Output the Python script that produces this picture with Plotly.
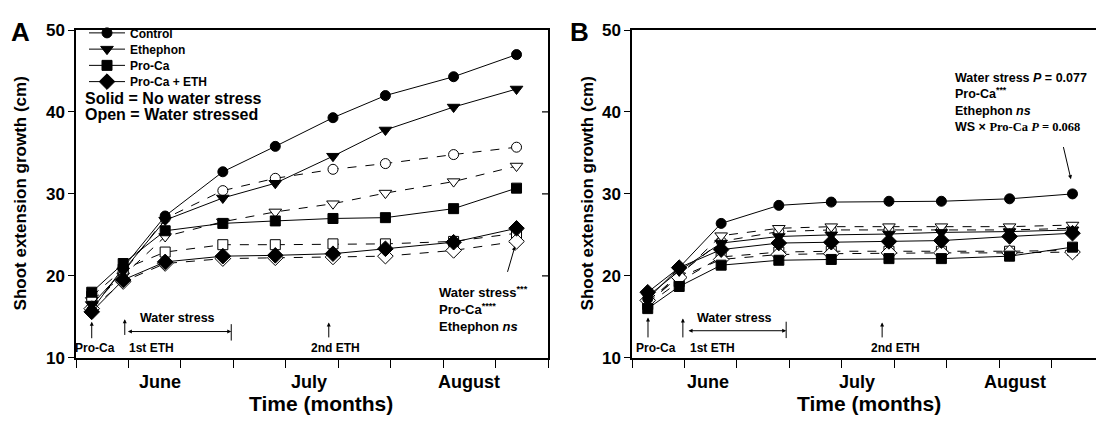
import plotly.graph_objects as go

# ---------------- data ----------------
days = [3, 9, 17, 28, 38, 49, 59, 72, 84]

# Panel A
a_control_ws0 = [15.8, 21.0, 27.3, 32.7, 35.8, 39.3, 42.0, 44.3, 47.0]
a_control_ws1 = [16.2, 20.4, 27.0, 30.4, 31.9, 33.0, 33.7, 34.8, 35.7]
a_eth_ws0 = [16.5, 20.6, 26.8, 29.5, 31.3, 34.6, 37.8, 40.6, 42.8]
a_eth_ws1 = [17.0, 20.0, 24.8, 26.6, 27.8, 28.8, 30.1, 31.5, 33.4]
a_proca_ws0 = [18.0, 21.5, 25.5, 26.4, 26.7, 27.0, 27.1, 28.2, 30.7]
a_proca_ws1 = [17.5, 20.8, 22.9, 23.8, 23.8, 23.9, 23.9, 24.2, 25.2]
a_pe_ws0 = [15.6, 19.5, 21.7, 22.4, 22.5, 22.7, 23.3, 24.1, 25.8]
a_pe_ws1 = [16.0, 19.3, 21.5, 22.1, 22.2, 22.3, 22.4, 23.1, 24.2]

# Panel B
b_control_ws0 = [17.2, 21.0, 26.4, 28.6, 29.0, 29.1, 29.1, 29.4, 30.0]
b_control_ws1 = [16.8, 20.2, 24.2, 25.4, 25.6, 25.6, 25.6, 25.6, 25.8]
b_eth_ws0 = [17.5, 20.6, 24.0, 24.8, 25.0, 25.1, 25.3, 25.4, 25.6]
b_eth_ws1 = [16.6, 20.0, 24.9, 25.8, 26.0, 26.0, 26.0, 26.0, 26.2]
b_proca_ws0 = [16.0, 18.7, 21.3, 21.9, 22.0, 22.1, 22.1, 22.4, 23.5]
b_proca_ws1 = [16.5, 19.3, 22.3, 22.9, 23.0, 23.0, 23.0, 23.0, 23.1]
b_pe_ws0 = [18.0, 21.0, 23.2, 24.0, 24.1, 24.2, 24.3, 24.8, 25.2]
b_pe_ws1 = [17.0, 19.8, 22.0, 22.6, 22.7, 22.8, 22.8, 22.8, 22.9]

treatments = ["Control", "Ethephon", "Pro-Ca", "Pro-Ca + ETH"]
symbols = ["circle", "triangle-down", "square", "diamond"]
msizes = [10, 11, 10, 12]

y_ticks = [10, 20, 30, 40, 50]
x_ticks = [0, 10, 20, 30, 40, 50, 60, 70, 80, 90]
months = ["June", "July", "August"]
a_month_pos = [16, 44.5, 75]
b_month_pos = [14.5, 43, 73]

FONT = "Liberation Sans, Arial, sans-serif"

fig = go.Figure()

a_series = [(a_control_ws0, a_control_ws1), (a_eth_ws0, a_eth_ws1),
            (a_proca_ws0, a_proca_ws1), (a_pe_ws0, a_pe_ws1)]
b_series = [(b_control_ws0, b_control_ws1), (b_eth_ws0, b_eth_ws1),
            (b_proca_ws0, b_proca_ws1), (b_pe_ws0, b_pe_ws1)]

legend_names = ["legend", "legend2", "legend3", "legend4"]

for panel, series, xa, ya in [("A", a_series, "x", "y"), ("B", b_series, "x2", "y2")]:
    # open (water stressed) first, dashed
    for i, (solid, open_) in enumerate(series):
        fig.add_trace(go.Scatter(
            x=days, y=open_, mode="lines+markers", xaxis=xa, yaxis=ya,
            line=dict(color="black", width=1, dash="dash"),
            marker=dict(symbol=symbols[i], size=msizes[i], color="white",
                        line=dict(color="black", width=1)),
            showlegend=False, name=treatments[i] + " (WS)"))
    for i, (solid, open_) in enumerate(series):
        fig.add_trace(go.Scatter(
            x=days, y=solid, mode="lines+markers", xaxis=xa, yaxis=ya,
            line=dict(color="black", width=1),
            marker=dict(symbol=symbols[i], size=msizes[i], color="black",
                        line=dict(color="black", width=1)),
            showlegend=(panel == "A"), legend=legend_names[i],
            name=treatments[i]))

W, H = 1096, 427
def px_x(p):
    return p / W
def px_y(p):
    return 1 - p / H

axis_common = dict(showline=True, linecolor="black", linewidth=1.5,
                   showgrid=False, zeroline=False)

fig.update_layout(
    width=W, height=H, margin=dict(l=0, r=0, t=0, b=0),
    paper_bgcolor="white", plot_bgcolor="white",
    font=dict(family=FONT, color="black"),
    xaxis=dict(domain=[px_x(76), px_x(548)], range=[0, 90], tickvals=x_ticks,
               showticklabels=False, ticks="outside", ticklen=8, tickwidth=1.2,
               tickcolor="black", mirror=True, anchor="y", **axis_common),
    yaxis=dict(domain=[px_y(365), px_y(22)], range=[10, 50], tickvals=y_ticks,
               ticks="outside", ticklen=6, tickwidth=1.2, tickcolor="black",
               tickfont=dict(size=17, family=FONT, weight="bold"),
               mirror=True, anchor="x", **axis_common),
    xaxis2=dict(domain=[px_x(632), 1.0], range=[0, (1096 - 632) / 5.244],
                tickvals=x_ticks, showticklabels=False, ticks="outside", ticklen=8,
                tickwidth=1.2, tickcolor="black", mirror=True, anchor="y2",
                **axis_common),
    yaxis2=dict(domain=[px_y(365), px_y(22)], range=[10, 50], tickvals=y_ticks,
                ticks="outside", ticklen=6, tickwidth=1.2, tickcolor="black",
                tickfont=dict(size=17, family=FONT, weight="bold"),
                mirror=False, anchor="x2", **axis_common),
)

# legends (one per entry, to control spacing)
leg_y = [25, 42, 59, 76]
for name, yy in zip(legend_names, leg_y):
    fig.layout[name] = dict(x=px_x(84), y=px_y(yy), xanchor="left", yanchor="middle",
                            bgcolor="rgba(0,0,0,0)", borderwidth=0,
                            font=dict(size=12, family=FONT, weight="bold"),
                            itemwidth=36)

# inward mirrored ticks on right side of panel A
for t in y_ticks[1:-1]:
    fig.add_shape(type="line", xref="x domain", yref="y", x0=1, x1=1 - 6 / 472,
                  y0=t, y1=t, line=dict(color="black", width=1.2))

ann = []
def text(x, y, s, size=12, xref="x", yref="y", xanchor="center", yanchor="middle",
         align="center", angle=0):
    ann.append(dict(x=x, y=y, xref=xref, yref=yref, text=s, showarrow=False,
                    font=dict(size=size, family=FONT, color="black", weight="bold"),
                    xanchor=xanchor, yanchor=yanchor, align=align, textangle=angle))

def arrow(x, y, ax, ay, xref="x", yref="y", side="end", head=2):
    ann.append(dict(x=x, y=y, ax=ax, ay=ay, xref=xref, yref=yref, axref=xref,
                    ayref=yref, text="", showarrow=True, arrowhead=head,
                    arrowside=side, startarrowhead=head,
                    arrowsize=0.8, startarrowsize=0.8, arrowwidth=1,
                    arrowcolor="black"))

# panel letters and axis titles
text(px_x(20), px_y(24), "A", size=26, xref="paper", yref="paper")
text(px_x(579), px_y(24), "B", size=26, xref="paper", yref="paper")
for xc in (20, 587):
    text(px_x(xc), px_y(193), "Shoot extension growth (cm)", size=17,
         xref="paper", yref="paper", angle=-90)
for xc in (321, 869):
    text(px_x(xc), px_y(413), "Time (months)", size=21, xref="paper", yref="paper")
for m, pa, pb in zip(months, a_month_pos, b_month_pos):
    text(pa, px_y(390), m, size=18, xref="x", yref="paper")
    text(pb, px_y(390), m, size=18, xref="x2", yref="paper")

# legend explanation
text(px_x(83), px_y(94), "Solid = No water stress", size=16, xref="paper",
     yref="paper", xanchor="left")
text(px_x(83), px_y(110), "Open = Water stressed", size=16, xref="paper",
     yref="paper", xanchor="left")

# panel A bottom annotations
arrow(3, 14.4, 3, 12.2)
text(3.7, 11.2, "Pro-Ca", size=12)
arrow(9.3, 14.7, 9.3, 12.6)
text(14.3, 11.2, "1st ETH", size=12)
arrow(48.2, 14.3, 48.2, 12.3)
text(49.4, 11.2, "2nd ETH", size=12)
arrow(29.6, 13.2, 9.6, 13.2, side="end+start")
fig.add_shape(type="line", xref="x", yref="y", x0=29.6, x1=29.6, y0=12.1, y1=14.1,
              line=dict(color="black", width=1))
text(19.3, 14.8, "Water stress", size=12.5)

# panel A stats
text(68.8, 19.2, "Water stress<sup>***</sup><br>Pro-Ca<sup>****</sup><br>Ethephon <i>ns</i>",
     size=13, xanchor="left", yanchor="top", align="left")
arrow(83.7, 23.6, 82.2, 20.3)

# panel B stats
text(61.2, 45.2,
     "Water stress <i>P</i> = 0.077<br>Pro-Ca<sup>***</sup><br>Ethephon <i>ns</i><br>"
     "WS \u00d7 <span style=\"font-family:'Liberation Serif'\">Pro-Ca <i>P</i> = 0.068</span>",
     size=12.5, xref="x2", yref="y2", xanchor="left", yanchor="top", align="left")
arrow(83.7, 31.8, 82.2, 35.9, xref="x2", yref="y2")

# panel B bottom annotations
arrow(3.05, 14.9, 3.05, 12.3, xref="x2", yref="y2")
text(4.6, 11.2, "Pro-Ca", size=12, xref="x2", yref="y2")
arrow(9.7, 14.8, 9.7, 12.3, xref="x2", yref="y2")
text(15.3, 11.2, "1st ETH", size=12, xref="x2", yref="y2")
arrow(47.7, 14.3, 47.7, 12.3, xref="x2", yref="y2")
text(50.2, 11.2, "2nd ETH", size=12, xref="x2", yref="y2")
arrow(29.4, 13.3, 10.5, 13.3, xref="x2", yref="y2", side="end+start")
fig.add_shape(type="line", xref="x2", yref="y2", x0=29.4, x1=29.4, y0=12.4, y1=14.4,
              line=dict(color="black", width=1))
text(19.5, 14.8, "Water stress", size=12.5, xref="x2", yref="y2")

fig.update_layout(annotations=ann)
fig.write_html("out.html")
